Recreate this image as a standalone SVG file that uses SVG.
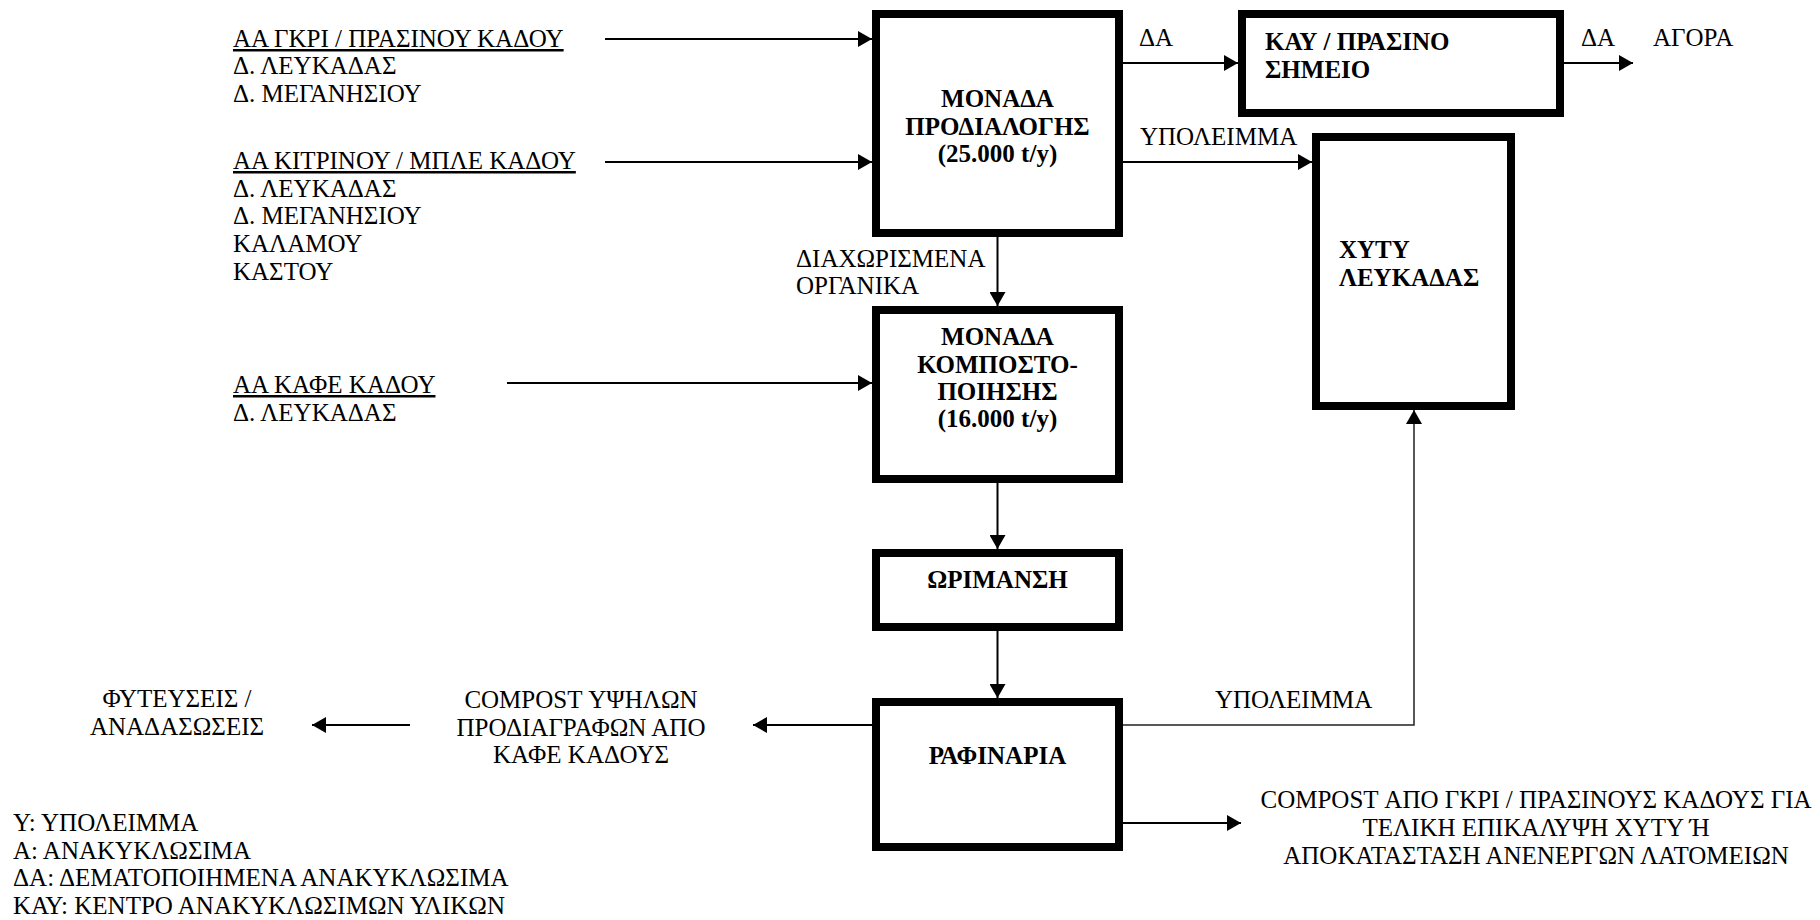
<svg xmlns="http://www.w3.org/2000/svg" width="1820" height="920" viewBox="0 0 1820 920" font-family="'Liberation Serif', 'Times New Roman', 'DejaVu Serif', serif">
<style>
  text { font-family: "Liberation Serif", "Times New Roman", "DejaVu Serif", serif; font-size: 25px; fill: #000; }
  .b { font-weight: bold; }
  .c { text-anchor: middle; }
  .u { text-decoration: underline; }
  .box { fill: #fff; stroke: #000; stroke-width: 8; }
  .ln { fill: none; stroke: #000; stroke-width: 2; marker-end: url(#arr); }
  .thin { fill: none; stroke: #222; stroke-width: 1.5; marker-end: url(#arr); }
</style>
<defs>
  <marker id="arr" markerUnits="userSpaceOnUse" markerWidth="14" markerHeight="16" viewBox="0 0 14 16" refX="14" refY="8" orient="auto">
    <path d="M0,0 L14,8 L0,16 z" fill="#000"/>
  </marker>
</defs>
<rect width="1820" height="920" fill="#fff"/>

<g id="connectors">
  <line class="ln" x1="605" y1="39" x2="872" y2="39"/>
  <line class="ln" x1="605" y1="162" x2="872" y2="162"/>
  <line class="ln" x1="507" y1="383" x2="872" y2="383"/>
  <line class="ln" x1="1123" y1="63" x2="1238" y2="63"/>
  <line class="ln" x1="1564" y1="63" x2="1633" y2="63"/>
  <line class="ln" x1="1123" y1="162" x2="1312" y2="162"/>
  <line class="ln" x1="997.5" y1="237" x2="997.5" y2="306"/>
  <line class="ln" x1="997.5" y1="483" x2="997.5" y2="549"/>
  <line class="ln" x1="997.5" y1="631" x2="997.5" y2="698"/>
  <line class="ln" x1="872" y1="725" x2="753" y2="725"/>
  <line class="ln" x1="410" y1="725" x2="312" y2="725"/>
  <polyline class="thin" points="1123,725 1414,725 1414,410"/>
  <line class="ln" x1="1123" y1="823" x2="1241" y2="823"/>
  <text x="1139" y="46">ΔΑ</text>
  <text x="1140" y="145">ΥΠΟΛΕΙΜΜΑ</text>
  <text x="1581" y="46">ΔΑ</text>
  <text x="796" y="267">ΔΙΑΧΩΡΙΣΜΕΝΑ</text>
  <text x="796" y="294">ΟΡΓΑΝΙΚΑ</text>
  <text x="1215" y="708">ΥΠΟΛΕΙΜΜΑ</text>
</g>

<g id="src-gray-green">
  <text x="233" y="47" class="u">ΑΑ ΓΚΡΙ / ΠΡΑΣΙΝΟΥ ΚΑΔΟΥ</text>
  <text x="233" y="74">Δ. ΛΕΥΚΑΔΑΣ</text>
  <text x="233" y="102">Δ. ΜΕΓΑΝΗΣΙΟΥ</text>
</g>
<g id="src-yellow-blue">
  <text x="233" y="169" class="u">ΑΑ ΚΙΤΡΙΝΟΥ / ΜΠΛΕ ΚΑΔΟΥ</text>
  <text x="233" y="197">Δ. ΛΕΥΚΑΔΑΣ</text>
  <text x="233" y="224">Δ. ΜΕΓΑΝΗΣΙΟΥ</text>
  <text x="233" y="252">ΚΑΛΑΜΟΥ</text>
  <text x="233" y="280">ΚΑΣΤΟΥ</text>
</g>
<g id="src-brown">
  <text x="233" y="393" class="u">ΑΑ ΚΑΦΕ ΚΑΔΟΥ</text>
  <text x="233" y="421">Δ. ΛΕΥΚΑΔΑΣ</text>
</g>

<g id="presorting">
  <rect class="box" x="876" y="14" width="243" height="219"/>
  <text x="997.5" y="107" class="b c">ΜΟΝΑΔΑ</text>
  <text x="997.5" y="135" class="b c">ΠΡΟΔΙΑΛΟΓΗΣ</text>
  <text x="997.5" y="162" class="b c">(25.000 t/y)</text>
</g>
<g id="kay">
  <rect class="box" x="1242" y="14" width="318" height="99"/>
  <text x="1265" y="50" class="b">ΚΑΥ / ΠΡΑΣΙΝΟ</text>
  <text x="1265" y="78" class="b">ΣΗΜΕΙΟ</text>
</g>
<g id="market">
  <text x="1653" y="46">ΑΓΟΡΑ</text>
</g>
<g id="xyty">
  <rect class="box" x="1316" y="137" width="195" height="269"/>
  <text x="1339" y="258" class="b">ΧΥΤΥ</text>
  <text x="1339" y="286" class="b">ΛΕΥΚΑΔΑΣ</text>
</g>
<g id="composting">
  <rect class="box" x="876" y="310" width="243" height="169"/>
  <text x="997.5" y="345" class="b c">ΜΟΝΑΔΑ</text>
  <text x="997.5" y="373" class="b c">ΚΟΜΠΟΣΤΟ-</text>
  <text x="997.5" y="400" class="b c">ΠΟΙΗΣΗΣ</text>
  <text x="997.5" y="427" class="b c">(16.000 t/y)</text>
</g>
<g id="maturation">
  <rect class="box" x="876" y="553" width="243" height="74"/>
  <text x="997.5" y="588" class="b c">ΩΡΙΜΑΝΣΗ</text>
</g>
<g id="refinery">
  <rect class="box" x="876" y="702" width="243" height="145"/>
  <text x="997.5" y="764" class="b c">ΡΑΦΙΝΑΡΙΑ</text>
</g>
<g id="compost-high">
  <text x="581" y="708" class="c">COMPOST ΥΨΗΛΩΝ</text>
  <text x="581" y="736" class="c">ΠΡΟΔΙΑΓΡΑΦΩΝ ΑΠΟ</text>
  <text x="581" y="763" class="c">ΚΑΦΕ ΚΑΔΟΥΣ</text>
</g>
<g id="planting">
  <text x="177" y="707" class="c">ΦΥΤΕΥΣΕΙΣ /</text>
  <text x="177" y="735" class="c">ΑΝΑΔΑΣΩΣΕΙΣ</text>
</g>
<g id="compost-cover">
  <text x="1536" y="808" class="c">COMPOST ΑΠΟ ΓΚΡΙ / ΠΡΑΣΙΝΟΥΣ ΚΑΔΟΥΣ ΓΙΑ</text>
  <text x="1536" y="836" class="c">ΤΕΛΙΚΗ ΕΠΙΚΑΛΥΨΗ ΧΥΤΥ Ή</text>
  <text x="1536" y="864" class="c">ΑΠΟΚΑΤΑΣΤΑΣΗ ΑΝΕΝΕΡΓΩΝ ΛΑΤΟΜΕΙΩΝ</text>
</g>
<g id="legend">
  <text x="13" y="831">Υ: ΥΠΟΛΕΙΜΜΑ</text>
  <text x="13" y="859">Α: ΑΝΑΚΥΚΛΩΣΙΜΑ</text>
  <text x="13" y="886">ΔΑ: ΔΕΜΑΤΟΠΟΙΗΜΕΝΑ ΑΝΑΚΥΚΛΩΣΙΜΑ</text>
  <text x="13" y="914">ΚΑΥ: ΚΕΝΤΡΟ ΑΝΑΚΥΚΛΩΣΙΜΩΝ ΥΛΙΚΩΝ</text>
</g>
</svg>
